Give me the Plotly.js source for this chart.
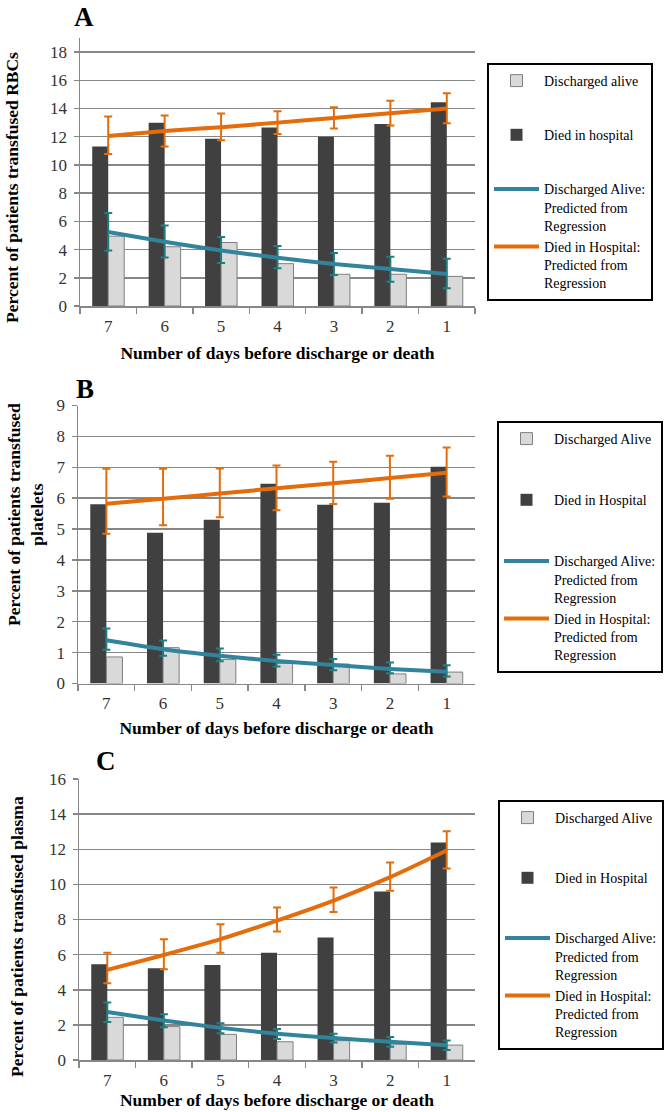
<!DOCTYPE html>
<html>
<head>
<meta charset="utf-8">
<script src="https://cdn.plot.ly/plotly-3.0.1.min.js"></script>
<style>html,body{margin:0;padding:0;background:#fff;}#chart{width:666px;height:1112px;}</style>
</head>
<body>
<div id="chart"></div>
<script>
// Categories: number of days before discharge or death
const days = ["7", "6", "5", "4", "3", "2", "1"];

// Panel A: RBCs
const diedA = [11.3, 13.0, 11.85, 12.65, 12.0, 12.9, 14.45];
const aliveA = [4.95, 4.2, 4.5, 3.0, 2.25, 2.25, 2.1];
const predDiedA = [12.06, 12.4, 12.68, 13.0, 13.33, 13.67, 14.0];
const diedHiA = [13.43, 13.5, 13.64, 13.8, 14.09, 14.56, 15.08];
const diedLoA = [10.78, 11.3, 11.75, 12.2, 12.58, 12.79, 12.96];
const predAliveA = [5.25, 4.55, 3.93, 3.42, 2.98, 2.62, 2.27];
const aliveHiA = [6.6, 5.7, 4.9, 4.26, 3.76, 3.5, 3.35];
const aliveLoA = [3.94, 3.43, 3.05, 2.67, 2.2, 1.72, 1.25];

// Panel B: platelets
const diedB = [5.8, 4.88, 5.3, 6.47, 5.79, 5.85, 7.02];
const aliveB = [0.86, 1.16, 0.78, 0.65, 0.63, 0.31, 0.37];
const predDiedB = [5.82, 5.98, 6.15, 6.32, 6.48, 6.65, 6.82];
const diedHiB = [6.95, 6.95, 6.96, 7.06, 7.18, 7.37, 7.64];
const diedLoB = [4.85, 5.12, 5.38, 5.61, 5.81, 5.98, 6.05];
const predAliveB = [1.4, 1.11, 0.9, 0.73, 0.6, 0.47, 0.38];
const aliveHiB = [1.78, 1.39, 1.13, 0.93, 0.79, 0.68, 0.59];
const aliveLoB = [1.09, 0.9, 0.72, 0.55, 0.43, 0.33, 0.23];

// Panel C: plasma
const diedC = [5.45, 5.22, 5.41, 6.1, 6.97, 9.59, 12.38];
const aliveC = [2.43, 1.9, 1.46, 1.04, 1.1, 0.9, 0.85];
const predDiedC = [5.13, 5.98, 6.88, 7.94, 9.08, 10.41, 11.93];
const diedHiC = [6.11, 6.88, 7.73, 8.68, 9.82, 11.24, 13.03];
const diedLoC = [4.37, 5.17, 6.11, 7.31, 8.42, 9.63, 10.9];
const predAliveC = [2.73, 2.25, 1.83, 1.5, 1.25, 1.04, 0.84];
const aliveHiC = [3.27, 2.6, 2.09, 1.77, 1.5, 1.31, 1.11];
const aliveLoC = [2.17, 1.86, 1.52, 1.2, 1.0, 0.76, 0.57];

// Legend labels
const namesA = ["Discharged alive", "Died in hospital"];
const namesBC = ["Discharged Alive", "Died in Hospital"];
const predAliveName = "Discharged Alive:<br>Predicted from<br>Regression";
const predDiedName = "Died in Hospital:<br>Predicted from<br>Regression";

const DARK = "#404040", LIGHT = "#d9d9d9", ORANGE = "#e46c0a", TEAL = "#31849b", TEAL_ERR = "#1f7f80";
const SERIF = "Liberation Serif";

function plus(hi, c) { return hi.map((v, i) => +(v - c[i]).toFixed(3)); }
function minus(lo, c) { return c.map((v, i) => +(v - lo[i]).toFixed(3)); }

function panel(k, died, alive, predDied, dHi, dLo, predAlive, aHi, aLo, names) {
  const xa = k === 1 ? "x" : "x" + k, ya = k === 1 ? "y" : "y" + k;
  const lg = k === 1 ? "legend" : "legend" + k;
  const g = "p" + k;
  return [
    {type: "bar", x: days, y: died, name: names[1], xaxis: xa, yaxis: ya, legend: lg,
     legendgroup: g + "b", legendrank: 2,
     marker: {color: DARK, line: {width: 0}}},
    {type: "bar", x: days, y: alive, name: names[0], xaxis: xa, yaxis: ya, legend: lg,
     legendgroup: g + "a", legendrank: 1,
     marker: {color: LIGHT, line: {color: "#7f7f7f", width: 1}}},
    {type: "scatter", mode: "lines", x: days, y: predAlive, name: predAliveName, xaxis: xa, yaxis: ya, legend: lg,
     legendgroup: g + "c", legendrank: 3,
     line: {color: TEAL, width: 4, shape: "spline", smoothing: 0.6},
     error_y: {type: "data", symmetric: false, array: plus(aHi, predAlive), arrayminus: minus(aLo, predAlive),
               color: TEAL_ERR, thickness: 2, width: 4}},
    {type: "scatter", mode: "lines", x: days, y: predDied, name: predDiedName, xaxis: xa, yaxis: ya, legend: lg,
     legendgroup: g + "c", legendrank: 4,
     line: {color: ORANGE, width: 4, shape: "spline", smoothing: 0.6},
     error_y: {type: "data", symmetric: false, array: plus(dHi, predDied), arrayminus: minus(dLo, predDied),
               color: ORANGE, thickness: 2, width: 4}}
  ];
}

const data = [].concat(
  panel(1, diedA, aliveA, predDiedA, diedHiA, diedLoA, predAliveA, aliveHiA, aliveLoA, namesA),
  panel(2, diedB, aliveB, predDiedB, diedHiB, diedLoB, predAliveB, aliveHiB, aliveLoB, namesBC),
  panel(3, diedC, aliveC, predDiedC, diedHiC, diedLoC, predAliveC, aliveHiC, aliveLoC, namesBC)
);

const W = 666, H = 1112;
const px = v => v / W, py = v => 1 - v / H;
const GRID = "#878787";

function xaxis(left, right, anchor, standoff) {
  return {domain: [px(left), px(right)], anchor: anchor, type: "category",
    tickson: "boundaries", ticks: "outside", ticklen: 6, tickwidth: 1.5, tickcolor: GRID,
    ticklabelstandoff: 4,
    showline: true, linecolor: GRID, linewidth: 1.5, showgrid: false, zeroline: false,
    tickfont: {family: SERIF, size: 17, color: "#333"},
    title: {text: "Number of days before discharge or death", standoff: standoff,
            font: {family: SERIF, size: 17.5, color: "#000", weight: "bold"}}};
}
function yaxis(top, bottom, anchor, max, dtick) {
  return {domain: [py(bottom), py(top)], anchor: anchor, range: [0, max], dtick: dtick,
    ticks: "outside", ticklen: 5, tickwidth: 1.5, tickcolor: GRID, ticklabelstandoff: 3,
    showline: true, linecolor: GRID, linewidth: 1.5,
    showgrid: true, gridcolor: GRID, gridwidth: 1.5, zeroline: false,
    tickfont: {family: SERIF, size: 17, color: "#333"}};
}
function legend(left, top, gap) {
  return {x: px(left), y: py(top), xanchor: "left", yanchor: "top",
    bordercolor: "#000", borderwidth: 2, bgcolor: "#fff",
    font: {family: SERIF, size: 14, color: "#000"},
    traceorder: "grouped", tracegroupgap: gap, valign: "top", itemwidth: 45};
}
function label(text, x, y, size, angle) {
  return {text: text, xref: "paper", yref: "paper", x: px(x), y: py(y), xanchor: "center", yanchor: "middle",
    showarrow: false, textangle: angle || 0,
    font: {family: SERIF, size: size, color: "#000", weight: "bold"}};
}

const layout = {
  width: W, height: H, margin: {l: 0, r: 0, t: 0, b: 0},
  paper_bgcolor: "#fff", plot_bgcolor: "#fff",
  font: {family: SERIF},
  barmode: "group", bargap: 0.433, bargroupgap: 0,
  xaxis: xaxis(80, 475, "y", 12),
  yaxis: yaxis(38, 306, "x", 19, 2),
  xaxis2: xaxis(78, 475, "y2", 9),
  yaxis2: yaxis(405.5, 683.5, "x2", 9, 1),
  xaxis3: xaxis(79, 475, "y3", 3),
  yaxis3: yaxis(779, 1060, "x3", 16, 2),
  legend: legend(487, 63, 33),
  legend2: legend(497, 421, 40),
  legend3: legend(498, 800, 39),
  annotations: [
    label("A", 84, 17, 27),
    label("B", 84.5, 389, 27),
    label("C", 106, 761, 27),
    label("Percent of patients transfused RBCs", 12, 188, 17.5, -90),
    label("Percent of patients transfused<br>platelets", 25, 515, 17.5, -90),
    label("Percent of patients transfused plasma", 17, 937, 17.5, -90)
  ]
};

Plotly.newPlot("chart", data, layout, {staticPlot: true, displayModeBar: false});
</script>
</body>
</html>
